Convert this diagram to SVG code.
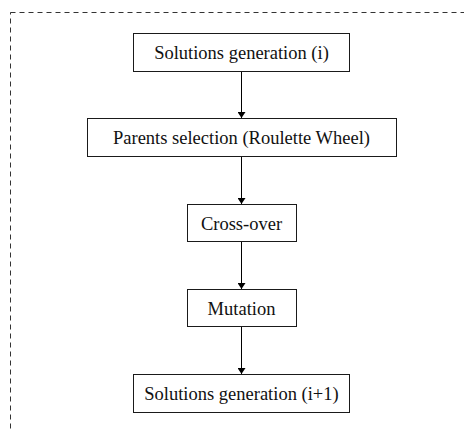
<svg xmlns="http://www.w3.org/2000/svg" width="464" height="431" viewBox="0 0 464 431">
  <style>
    .box { fill: #ffffff; stroke: #1a1a1a; stroke-width: 1; }
    .lbl { font-family: 'Liberation Serif', 'Times New Roman', 'DejaVu Serif', serif; font-size: 18.5px; fill: #111111; text-anchor: middle; }
    .edge { stroke: #000000; stroke-width: 1; fill: none; marker-end: url(#arrow); }
    .frame { fill: none; stroke: #333333; stroke-width: 1; stroke-dasharray: 5 4; }
  </style>
  <defs>
    <marker id="arrow" viewBox="0 0 6 8" refX="6" refY="4" markerWidth="6" markerHeight="8" markerUnits="userSpaceOnUse" orient="auto">
      <path d="M0,0 L6,4 L0,8 Z" fill="#000000"/>
    </marker>
  </defs>

  <!-- dashed enclosing frame -->
  <rect class="frame" x="10.5" y="12.5" width="470" height="440"/>

  <g id="connectors">
    <line class="edge" x1="241.5" y1="72" x2="241.5" y2="118"/>
    <line class="edge" x1="241.5" y1="157" x2="241.5" y2="204"/>
    <line class="edge" x1="241.5" y1="242" x2="241.5" y2="289"/>
    <line class="edge" x1="241.5" y1="327" x2="241.5" y2="374"/>
  </g>

  <g id="solutions-i">
    <rect class="box" x="133.5" y="33.5" width="216" height="38"/>
    <text class="lbl" x="241.5" y="59">Solutions generation (i)</text>
  </g>

  <g id="parents-selection">
    <rect class="box" x="87.5" y="118.5" width="309" height="38"/>
    <text class="lbl" x="241.5" y="144">Parents selection (Roulette Wheel)</text>
  </g>

  <g id="cross-over">
    <rect class="box" x="187.5" y="204.5" width="109" height="37"/>
    <text class="lbl" x="241.5" y="229.5">Cross-over</text>
  </g>

  <g id="mutation">
    <rect class="box" x="187.5" y="289.5" width="109" height="37"/>
    <text class="lbl" x="241.5" y="314.5">Mutation</text>
  </g>

  <g id="solutions-i1">
    <rect class="box" x="133.5" y="374.5" width="216" height="38"/>
    <text class="lbl" x="241.5" y="399.5">Solutions generation (i+1)</text>
  </g>
</svg>
